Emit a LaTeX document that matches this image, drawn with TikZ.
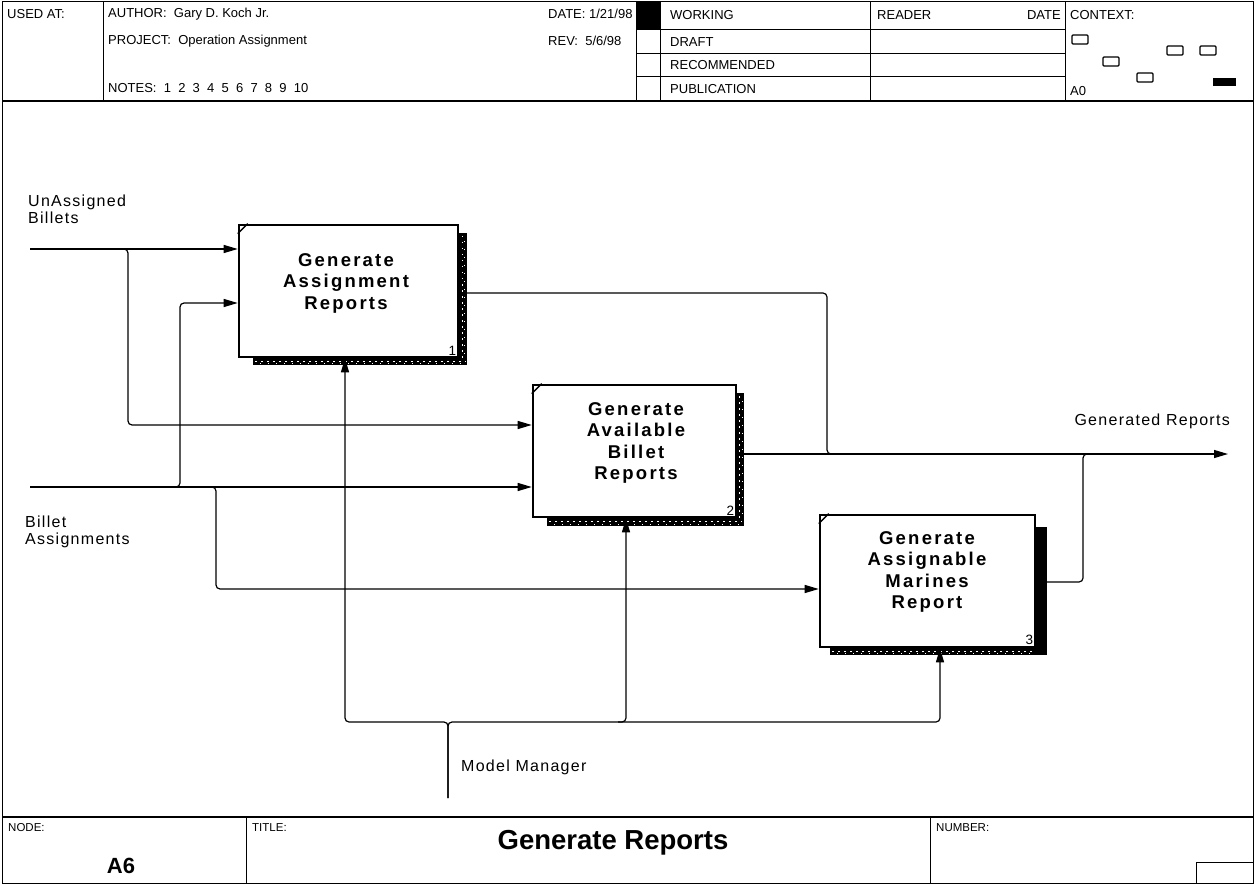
\documentclass[tikz,border=0pt]{standalone}
\usepackage{fontspec}
\setmainfont{Liberation Sans}
\newfontfamily\boxfont{Liberation Sans}[LetterSpace=12]
\newfontfamily\lblfont{Liberation Sans}[LetterSpace=8]
\usetikzlibrary{arrows.meta,calc}
\tikzset{
  frameline/.style={line width=1pt},
  hdr/.style={anchor=west, inner sep=0pt, font=\fontsize{13}{14}\selectfont},
  small/.style={anchor=west, inner sep=0pt, font=\fontsize{11.5}{12}\selectfont},
  lbl/.style={anchor=west, inner sep=0pt, align=left, font=\lblfont\fontsize{16}{17}\selectfont},
  fbox/.style={draw, line width=2.6pt, fill=white, inner sep=0pt},
  boxtext/.style={align=center, inner sep=0pt, font=\boxfont\bfseries\fontsize{18.5}{21.5}\selectfont},
  boxnum/.style={anchor=south east, inner sep=0pt, font=\fontsize{13.5}{14}\selectfont},
  conn/.style={line width=1.2pt, rounded corners=4pt},
  arr/.style={conn, -{Triangle[length=14pt,width=8pt]}},
  ctx/.style={draw, line width=1.3pt, rounded corners=1pt},
  hatch/.style={white, line width=1pt, dash pattern=on 1.5pt off 4.5pt},
  hatchb/.style={white, line width=0.8pt, dash pattern=on 1pt off 7pt, dash phase=3pt},
}
\begin{document}
\begin{tikzpicture}[x=1pt,y=-1pt]
\useasboundingbox (0,0) rectangle (1255,885);
% outer frame
\draw[frameline] (2,2) rectangle (1253,883);
% ---------- header ----------
\draw[line width=1.4pt] (2,101) -- (1253,101);
\draw[frameline] (103,2) -- (103,101);
\draw[frameline] (636,2) -- (636,101);
\draw[frameline] (660,2) -- (660,101);
\draw[frameline] (870,2) -- (870,101);
\draw[frameline] (1065,2) -- (1065,101);
\foreach \yy in {30,54,77} \draw[frameline] (636,\yy) -- (1065,\yy);
\fill[black] (636,2) rectangle (660,30);
\node[hdr] (usedat) at (7,14) {USED AT:};
\node[hdr] (author) at (108,14) {AUTHOR:\ \ Gary D. Koch Jr.};
\node[hdr] (project) at (108,41) {PROJECT:\ \ Operation Assignment};
\node[hdr] (notes) at (108,88) {NOTES:\ \ 1\ \ 2\ \ 3\ \ 4\ \ 5\ \ 6\ \ 7\ \ 8\ \ 9\ \ 10};
\node[hdr] (date) at (548,14) {DATE: 1/21/98};
\node[hdr] (rev) at (548,41) {REV:\ \ 5/6/98};
\node[hdr] (working) at (670,15) {WORKING};
\node[hdr] (draft) at (670,42) {DRAFT};
\node[hdr] (recom) at (670,65) {RECOMMENDED};
\node[hdr] (publ) at (670,89) {PUBLICATION};
\node[hdr] (reader) at (877,15) {READER};
\node[hdr, anchor=east] (rdate) at (1061,15) {DATE};
\node[hdr] (context) at (1070,15) {CONTEXT:};
\node[hdr] (a0) at (1070,91) {A0};
\draw[ctx] (1072,35) rectangle (1088,44);
\draw[ctx] (1167,46) rectangle (1183,55);
\draw[ctx] (1200,46) rectangle (1216,55);
\draw[ctx] (1103,57) rectangle (1119,66);
\draw[ctx] (1137,73) rectangle (1153,82);
\fill[black] (1213,78) rectangle (1236,86);
% ---------- title block ----------
\draw[line width=1.4pt] (2,817) -- (1253,817);
\draw[frameline] (246,817) -- (246,883);
\draw[frameline] (930,817) -- (930,883);
\draw[frameline] (1196,883) -- (1196,862) -- (1253,862);
\node[small] (nodelbl) at (8,828) {NODE:};
\node[inner sep=0pt, font=\bfseries\fontsize{22}{23}\selectfont] (nodeid) at (121,866) {A6};
\node[small] (titlelbl) at (252,828) {TITLE:};
\node[inner sep=0pt, font=\bfseries\fontsize{27.5}{28}\selectfont] (title) at (613,843) {Generate Reports};
\node[small] (numlbl) at (936,828) {NUMBER:};
% ---------- shadow strips ----------
\fill[black] (459,233) rectangle (467,365);
\draw[hatch] (462,236) -- (462,364);
\draw[hatchb] (464.5,236) -- (464.5,364);
\fill[black] (253,358) rectangle (467,365);
\draw[hatch] (255,361) -- (466,361);
\draw[hatchb] (255,363) -- (466,363);
\fill[black] (736,393) rectangle (744,526);
\draw[hatch] (739.5,396) -- (739.5,524);
\draw[hatchb] (742,396) -- (742,524);
\fill[black] (547,518) rectangle (744,526);
\draw[hatch] (549,521.5) -- (742,521.5);
\draw[hatchb] (549,524) -- (742,524);
\fill[black] (1036,527) rectangle (1047,655);
\fill[black] (830,648) rectangle (1047,655);
\draw[hatch] (832,651) -- (1035,651);
\draw[hatchb] (832,653.5) -- (1035,653.5);
% ---------- boxes ----------
\node[fbox, minimum width=219pt, minimum height=132pt] (b1) at (348.5,291) {};
\node[fbox, minimum width=203pt, minimum height=132pt] (b2) at (634.5,451) {};
\node[fbox, minimum width=215pt, minimum height=132pt] (b3) at (927.5,581) {};
\foreach \b in {b1,b2,b3}
  \draw[line width=1.3pt] ([yshift=-10pt]\b.north west) -- ([xshift=10pt]\b.north west);
\node[boxtext] (t1) at (346,283) {Generate\\Assignment\\Reports};
\node[boxtext] (t2) at (636,443) {Generate\\Available\\Billet\\Reports};
\node[boxtext] (t3) at (927,572) {Generate\\Assignable\\Marines\\Report};
\node[boxnum] (n1) at ([xshift=-3pt,yshift=3pt]b1.south east) {1};
\node[boxnum] (n2) at ([xshift=-3pt,yshift=3pt]b2.south east) {2};
\node[boxnum] (n3) at ([xshift=-3pt,yshift=3pt]b3.south east) {3};
% ---------- labels ----------
\node[lbl] (ublbl) at (28,209) {UnAssigned\\Billets};
\node[lbl] (balbl) at (25,532) {Billet\\Assignments};
\node[lbl, anchor=east] (grlbl) at (1230,421) {Generated Reports};
\node[lbl] (mmlbl) at (461,767) {Model Manager};
% ---------- coordinates ----------
\coordinate (ub) at (30,249);
\coordinate (ba) at (30,487);
\coordinate (j1) at (128,249);
\coordinate (j1b) at (128,425);
\coordinate (j2) at (180,487);
\coordinate (j2t) at (180,303);
\coordinate (j3) at (216,487);
\coordinate (j3b) at (216,589);
\coordinate (o1) at (827,293);
\coordinate (o1b) at (827,454);
\coordinate (gr) at (1228,454);
\coordinate (o3) at (1083,582);
\coordinate (o3t) at (1083,454);
\coordinate (mm) at (448,798);
\coordinate (bus) at (448,722);
\coordinate (busl) at (345,722);
\coordinate (busr) at (940,722);
\coordinate (bus2) at (626,722);
% ---------- inputs ----------
\draw[arr] (ub) -- (ub -| b1.west);
\draw[arr] ([xshift=-8pt]j1) -- (j1) -- (j1b) -- (j1b -| b2.west);
\draw[arr] (ba) -- (ba -| b2.west);
\draw[arr] ([xshift=-8pt]j2) -- (j2) -- (j2t) -- (j2t -| b1.west);
\draw[arr] ([xshift=-8pt]j3) -- (j3) -- (j3b) -- (j3b -| b3.west);
% ---------- outputs ----------
\draw[conn] (o1 -| b1.east) -- (o1) -- (o1b) -- ([xshift=8pt]o1b);
\draw[arr] (gr -| b2.east) -- (gr);
\draw[conn] (o3 -| b3.east) -- (o3) -- (o3t) -- ([xshift=8pt]o3t);
% ---------- mechanisms ----------
\draw[arr] (mm) -- (bus) -- (busl) -- (busl |- b1.south);
\draw[arr] (mm) -- (bus) -- (busr) -- (busr |- b3.south);
\draw[arr] ([xshift=-8pt]bus2) -- (bus2) -- (bus2 |- b2.south);
\end{tikzpicture}
\end{document}
